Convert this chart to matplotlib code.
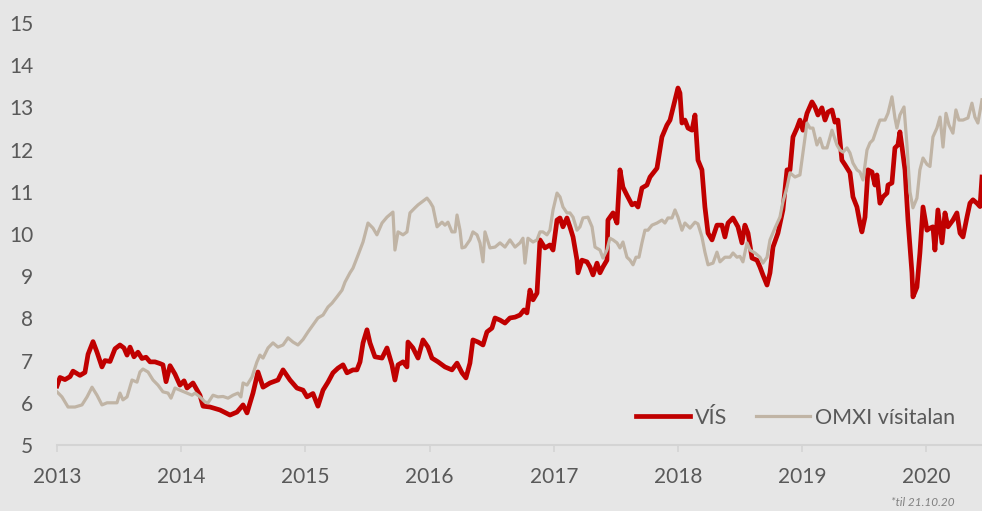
import matplotlib
matplotlib.use("Agg")
import matplotlib.pyplot as plt

# VÍS - dagsetning sem brot úr ári og gildi
vis_ar = [2013.000, 2013.024, 2013.064, 2013.105, 2013.129, 2013.185, 2013.225, 2013.250, 2013.290, 2013.322,
          2013.362, 2013.386, 2013.427, 2013.467, 2013.507, 2013.539, 2013.564, 2013.588, 2013.620, 2013.652,
          2013.684, 2013.717, 2013.749, 2013.789, 2013.829, 2013.853, 2013.878, 2013.910, 2013.950, 2013.990,
          2014.023, 2014.047, 2014.095, 2014.151, 2014.176, 2014.232, 2014.312, 2014.393, 2014.449, 2014.498,
          2014.530, 2014.578, 2014.618, 2014.659, 2014.715, 2014.779, 2014.820, 2014.876, 2014.932, 2014.981,
          2015.013, 2015.061, 2015.101, 2015.142, 2015.182, 2015.222, 2015.262, 2015.303, 2015.335, 2015.383,
          2015.415, 2015.440, 2015.464, 2015.496, 2015.520, 2015.560, 2015.617, 2015.657, 2015.697, 2015.721,
          2015.746, 2015.786, 2015.818, 2015.826, 2015.866, 2015.907, 2015.947, 2015.987, 2016.019, 2016.068,
          2016.124, 2016.180, 2016.221, 2016.261, 2016.293, 2016.325, 2016.349, 2016.390, 2016.430, 2016.462,
          2016.502, 2016.527, 2016.567, 2016.607, 2016.647, 2016.688, 2016.728, 2016.760, 2016.784, 2016.808,
          2016.833, 2016.865, 2016.889, 2016.929, 2016.969, 2016.994, 2017.026, 2017.050, 2017.074, 2017.106,
          2017.130, 2017.155, 2017.187, 2017.195, 2017.227, 2017.267, 2017.291, 2017.316, 2017.348, 2017.372,
          2017.396, 2017.428, 2017.436, 2017.477, 2017.509, 2017.533, 2017.557, 2017.589, 2017.630, 2017.654,
          2017.678, 2017.710, 2017.750, 2017.775, 2017.831, 2017.871, 2017.911, 2017.936, 2017.976, 2018.000,
          2018.016, 2018.032, 2018.056, 2018.081, 2018.113, 2018.137, 2018.161, 2018.193, 2018.217, 2018.242,
          2018.274, 2018.314, 2018.354, 2018.378, 2018.403, 2018.443, 2018.483, 2018.515, 2018.539, 2018.564,
          2018.596, 2018.636, 2018.660, 2018.684, 2018.717, 2018.741, 2018.765, 2018.805, 2018.845, 2018.878,
          2018.902, 2018.926, 2018.958, 2018.982, 2019.006, 2019.039, 2019.079, 2019.103, 2019.127, 2019.159,
          2019.184, 2019.208, 2019.240, 2019.264, 2019.288, 2019.304, 2019.320, 2019.345, 2019.385, 2019.409,
          2019.441, 2019.465, 2019.481, 2019.506, 2019.530, 2019.562, 2019.586, 2019.602, 2019.626, 2019.651,
          2019.683, 2019.691, 2019.723, 2019.747, 2019.771, 2019.787, 2019.804, 2019.828, 2019.852, 2019.884,
          2019.892, 2019.924, 2019.948, 2019.973, 2020.005, 2020.029, 2020.053, 2020.069, 2020.093, 2020.126,
          2020.150, 2020.174, 2020.214, 2020.246, 2020.271, 2020.295, 2020.327, 2020.351, 2020.375, 2020.407,
          2020.432, 2020.448]
vis = [6.40, 6.60, 6.55, 6.62, 6.75, 6.65, 6.72, 7.15, 7.45, 7.20,
       6.85, 7.00, 6.98, 7.28, 7.37, 7.30, 7.13, 7.32, 7.09, 7.20,
       7.05, 7.08, 6.97, 6.97, 6.93, 6.90, 6.50, 6.88, 6.68, 6.42,
       6.52, 6.35, 6.47, 6.18, 5.92, 5.90, 5.83, 5.71, 5.78, 5.95,
       5.76, 6.23, 6.73, 6.37, 6.47, 6.54, 6.78, 6.54, 6.35, 6.30,
       6.14, 6.22, 5.92, 6.30, 6.49, 6.71, 6.82, 6.90, 6.71, 6.78,
       6.78, 6.97, 7.42, 7.73, 7.42, 7.09, 7.06, 7.30, 6.90, 6.54,
       6.90, 6.97, 6.85, 7.44, 7.30, 7.06, 7.49, 7.32, 7.06, 6.97,
       6.85, 6.78, 6.94, 6.71, 6.59, 6.94, 7.49, 7.44, 7.37, 7.68,
       7.77, 8.01, 7.96, 7.89, 8.01, 8.03, 8.08, 8.20, 8.13, 8.67,
       8.44, 8.60, 9.86, 9.67, 9.74, 9.62, 10.33, 10.38, 10.17, 10.38,
       10.17, 9.93, 9.38, 9.08, 9.38, 9.34, 9.22, 9.03, 9.31, 9.08,
       9.22, 9.38, 10.33, 10.50, 10.26, 11.52, 11.11, 10.92, 10.69, 10.73,
       10.64, 11.09, 11.16, 11.35, 11.56, 12.30, 12.58, 12.70, 13.18, 13.46,
       13.34, 12.63, 12.70, 12.51, 12.46, 12.82, 11.75, 11.52, 10.64, 10.02,
       9.86, 10.21, 10.21, 9.93, 10.26, 10.38, 10.17, 9.79, 10.21, 10.02,
       9.43, 9.38, 9.22, 9.03, 8.79, 9.08, 9.69, 10.02, 10.57, 11.52,
       11.52, 12.30, 12.51, 12.70, 12.46, 12.86, 13.13, 13.01, 12.82, 12.99,
       12.70, 12.89, 12.94, 12.65, 12.70, 12.23, 11.75, 11.64, 11.45, 10.88,
       10.64, 10.26, 10.05, 10.40, 11.52, 11.47, 11.16, 11.40, 10.73, 10.88,
       10.97, 11.16, 11.21, 12.04, 12.11, 12.42, 12.06, 11.52, 10.33, 9.08,
       8.51, 8.74, 9.55, 10.64, 10.09, 10.14, 10.17, 9.62, 10.57, 9.79,
       10.50, 10.17, 10.33, 10.50, 10.02, 9.93, 10.40, 10.73, 10.81, 10.73,
       10.65, 11.35]

# OMXI vísitalan
omxi_ar = [2013.000, 2013.040, 2013.089, 2013.145, 2013.201, 2013.242, 2013.282, 2013.322, 2013.362, 2013.403,
           2013.443, 2013.483, 2013.507, 2013.531, 2013.564, 2013.604, 2013.644, 2013.668, 2013.692, 2013.733,
           2013.773, 2013.813, 2013.853, 2013.894, 2013.918, 2013.950, 2013.990, 2014.047, 2014.087, 2014.111,
           2014.151, 2014.192, 2014.216, 2014.256, 2014.296, 2014.337, 2014.377, 2014.417, 2014.457, 2014.481,
           2014.498, 2014.530, 2014.570, 2014.610, 2014.634, 2014.659, 2014.699, 2014.739, 2014.779, 2014.820,
           2014.860, 2014.900, 2014.940, 2014.981, 2015.021, 2015.077, 2015.101, 2015.142, 2015.182, 2015.214,
           2015.254, 2015.295, 2015.319, 2015.359, 2015.383, 2015.424, 2015.464, 2015.504, 2015.544, 2015.576,
           2015.617, 2015.657, 2015.705, 2015.721, 2015.746, 2015.786, 2015.818, 2015.842, 2015.882, 2015.907,
           2015.939, 2015.979, 2016.003, 2016.027, 2016.060, 2016.100, 2016.124, 2016.148, 2016.180, 2016.205,
           2016.221, 2016.245, 2016.261, 2016.285, 2016.325, 2016.349, 2016.382, 2016.406, 2016.430, 2016.446,
           2016.486, 2016.527, 2016.567, 2016.607, 2016.647, 2016.688, 2016.728, 2016.752, 2016.768, 2016.792,
           2016.833, 2016.865, 2016.889, 2016.913, 2016.945, 2016.969, 2016.994, 2017.026, 2017.050, 2017.074,
           2017.106, 2017.130, 2017.155, 2017.187, 2017.211, 2017.235, 2017.275, 2017.308, 2017.332, 2017.372,
           2017.396, 2017.428, 2017.452, 2017.477, 2017.509, 2017.533, 2017.557, 2017.589, 2017.614, 2017.638,
           2017.662, 2017.686, 2017.710, 2017.734, 2017.758, 2017.791, 2017.831, 2017.871, 2017.895, 2017.919,
           2017.952, 2017.976, 2018.000, 2018.032, 2018.056, 2018.097, 2018.137, 2018.161, 2018.193, 2018.217,
           2018.242, 2018.282, 2018.314, 2018.338, 2018.378, 2018.419, 2018.443, 2018.475, 2018.499, 2018.523,
           2018.556, 2018.580, 2018.620, 2018.660, 2018.684, 2018.717, 2018.741, 2018.781, 2018.821, 2018.845,
           2018.878, 2018.902, 2018.942, 2018.982, 2019.006, 2019.039, 2019.063, 2019.087, 2019.119, 2019.143,
           2019.167, 2019.200, 2019.240, 2019.280, 2019.304, 2019.329, 2019.361, 2019.385, 2019.409, 2019.441,
           2019.465, 2019.490, 2019.522, 2019.546, 2019.570, 2019.602, 2019.626, 2019.667, 2019.691, 2019.723,
           2019.747, 2019.763, 2019.787, 2019.820, 2019.844, 2019.868, 2019.892, 2019.924, 2019.948, 2019.973,
           2020.005, 2020.029, 2020.053, 2020.085, 2020.110, 2020.134, 2020.158, 2020.182, 2020.214, 2020.238,
           2020.262, 2020.295, 2020.335, 2020.367, 2020.391, 2020.415, 2020.448]
omxi = [6.26, 6.14, 5.90, 5.90, 5.95, 6.14, 6.37, 6.18, 5.95, 6.00,
        6.00, 6.00, 6.23, 6.07, 6.14, 6.54, 6.49, 6.73, 6.80, 6.73,
        6.54, 6.42, 6.26, 6.23, 6.11, 6.35, 6.30, 6.23, 6.18, 6.23,
        6.14, 6.02, 6.00, 6.18, 6.14, 6.15, 6.11, 6.18, 6.23, 6.14,
        6.47, 6.42, 6.61, 6.97, 7.13, 7.06, 7.30, 7.42, 7.32, 7.37,
        7.54, 7.44, 7.37, 7.50, 7.68, 7.91, 8.01, 8.08, 8.27, 8.36,
        8.51, 8.67, 8.86, 9.08, 9.19, 9.50, 9.81, 10.26, 10.14, 9.98,
        10.26, 10.40, 10.52, 9.62, 10.05, 9.98, 10.05, 10.50, 10.62, 10.69,
        10.76, 10.85, 10.76, 10.64, 10.17, 10.28, 10.21, 10.28, 10.05, 10.05,
        10.45, 10.09, 9.67, 9.69, 9.86, 10.05, 9.98, 9.79, 9.34, 10.05,
        9.67, 9.69, 9.79, 9.69, 9.86, 9.69, 9.79, 9.90, 9.31, 9.90,
        9.81, 9.86, 10.05, 10.05, 9.98, 10.09, 10.57, 10.97, 10.88, 10.64,
        10.50, 10.50, 10.40, 10.09, 10.17, 10.38, 10.40, 10.17, 9.69, 9.62,
        9.43, 9.62, 9.90, 9.86, 9.79, 9.67, 9.81, 9.45, 9.38, 9.27,
        9.45, 9.45, 9.79, 10.09, 10.09, 10.21, 10.26, 10.33, 10.26, 10.38,
        10.38, 10.57, 10.40, 10.09, 10.26, 10.14, 10.28, 10.24, 9.93, 9.57,
        9.27, 9.31, 9.57, 9.34, 9.45, 9.45, 9.55, 9.45, 9.47, 9.34,
        9.79, 9.62, 9.55, 9.45, 9.31, 9.45, 9.86, 10.14, 10.40, 10.76,
        11.11, 11.45, 11.35, 11.40, 11.92, 12.63, 12.51, 12.51, 12.11, 12.27,
        12.04, 12.04, 12.46, 12.11, 11.99, 11.94, 12.04, 11.92, 11.68, 11.52,
        11.47, 11.28, 11.99, 12.16, 12.23, 12.51, 12.70, 12.70, 12.86, 13.25,
        12.75, 12.51, 12.82, 13.01, 12.10, 11.00, 10.62, 10.85, 11.52, 11.80,
        11.65, 11.60, 12.30, 12.51, 12.77, 12.06, 12.86, 12.58, 12.39, 12.94,
        12.70, 12.70, 12.75, 13.10, 12.77, 12.63, 13.18]

ar_merki = [2013, 2014, 2015, 2016, 2017, 2018, 2019, 2020]
y_merki = [5, 6, 7, 8, 9, 10, 11, 12, 13, 14, 15]

bakgrunnur = "#e6e6e6"
raudur = "#c00000"
drapp = "#c0b4a5"
texti = "#595959"

plt.rcParams["font.family"] = ["Lato", "DejaVu Sans"]

fig = plt.figure(figsize=(9.82, 5.11), dpi=100, facecolor=bakgrunnur)
ax = fig.add_axes([57 / 982, 66 / 511, 925 / 982, 422 / 511], facecolor=bakgrunnur)

ax.plot(vis_ar, vis, color=raudur, lw=3.4, label="VÍS", solid_joinstyle="round", zorder=3)
ax.plot(omxi_ar, omxi, color=drapp, lw=2.3, label="OMXI vísitalan", solid_joinstyle="round", zorder=4)

ax.set_xlim(2013, 2020.448)
ax.set_ylim(5, 15)
ax.set_xticks(ar_merki)
ax.set_xticklabels([str(a) for a in ar_merki])
ax.set_yticks(y_merki)

for s in ["top", "right", "left"]:
    ax.spines[s].set_visible(False)
ax.spines["bottom"].set_color("#d4d4d4")
ax.spines["bottom"].set_linewidth(1.5)

ax.tick_params(axis="y", length=0, pad=17, labelsize=15, labelcolor=texti)
ax.tick_params(axis="x", length=5, width=1.2, color="#d4d4d4", pad=11, labelsize=15, labelcolor=texti)

leg = ax.legend(loc="center left", bbox_to_anchor=(0.626, 0.064), ncol=2, frameon=False,
                fontsize=15.5, handlelength=2.5, handletextpad=0.22, columnspacing=1.37,
                borderpad=0, borderaxespad=0)
for t in leg.get_texts():
    t.set_color(texti)

fig.text(955 / 982, 3 / 511, "*til 21.10.20", ha="right", va="bottom", fontsize=8.5,
         style="italic", color="#808080")

fig.savefig("out.png", dpi=100, facecolor=bakgrunnur)
